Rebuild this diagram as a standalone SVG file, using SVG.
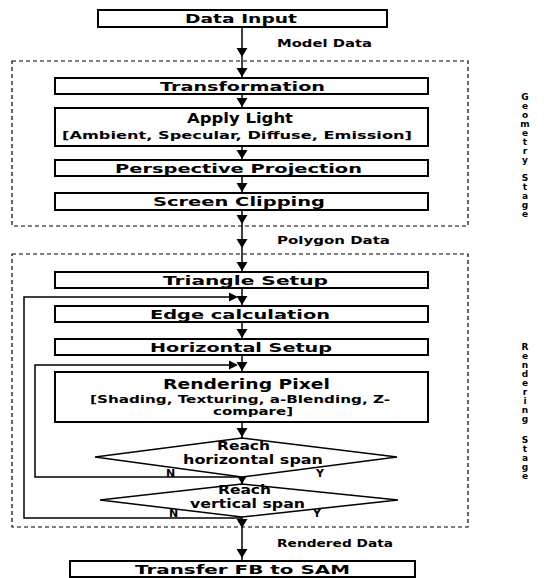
<svg xmlns="http://www.w3.org/2000/svg" width="550" height="578" viewBox="0 0 550 578">
<style>
.box{fill:#fff;stroke:#000;stroke-width:2}
.stage{fill:none;stroke:#000;stroke-width:1.2;stroke-dasharray:4 3}
.ln{fill:none;stroke:#000;stroke-width:1.5}
.t{font-family:"DejaVu Sans","Liberation Sans",Arial,sans-serif;font-weight:bold;fill:#000}
.m{font-size:13px}
.d{font-size:12px}
.s{font-size:11px}
.l{font-size:10.5px}
.v{font-family:"DejaVu Sans","Liberation Sans",Arial,sans-serif;font-weight:bold;font-size:9px;fill:#000;text-anchor:middle}
</style>
<defs>
<path id="ah" d="M-5.5,-9 L5.5,-9 L0,0 Z" fill="#000"/>
<path id="ahr" d="M-9,-4.5 L-9,4.5 L0,0 Z" fill="#000"/>
</defs>

<g id="geometry-stage">
<rect class="stage" x="12" y="61" width="456" height="165"/>
<text class="v"><tspan x="525" y="100">G</tspan><tspan x="525" y="109">e</tspan><tspan x="525" y="118">o</tspan><tspan x="525" y="127">m</tspan><tspan x="525" y="136">e</tspan><tspan x="525" y="145">t</tspan><tspan x="525" y="154">r</tspan><tspan x="525" y="163">y</tspan><tspan x="525" y="181">S</tspan><tspan x="525" y="190">t</tspan><tspan x="525" y="199">a</tspan><tspan x="525" y="208">g</tspan><tspan x="525" y="217">e</tspan></text>
</g>
<g id="rendering-stage">
<rect class="stage" x="12" y="254" width="456" height="273"/>
<text class="v"><tspan x="525" y="350">R</tspan><tspan x="525" y="359">e</tspan><tspan x="525" y="368">n</tspan><tspan x="525" y="377">d</tspan><tspan x="525" y="386">e</tspan><tspan x="525" y="395">r</tspan><tspan x="525" y="404">i</tspan><tspan x="525" y="413">n</tspan><tspan x="525" y="422">g</tspan><tspan x="525" y="443">S</tspan><tspan x="525" y="452">t</tspan><tspan x="525" y="461">a</tspan><tspan x="525" y="470">g</tspan><tspan x="525" y="479">e</tspan></text>
</g>

<g id="connectors">
<line class="ln" x1="242" y1="27" x2="242" y2="78"/>
<use href="#ah" transform="translate(242,57)"/>
<use href="#ah" transform="translate(242,77)"/>
<line class="ln" x1="242" y1="94" x2="242" y2="108"/>
<use href="#ah" transform="translate(242,107)"/>
<line class="ln" x1="242" y1="146" x2="242" y2="160"/>
<use href="#ah" transform="translate(242,159)"/>
<line class="ln" x1="242" y1="176" x2="242" y2="193"/>
<use href="#ah" transform="translate(242,192)"/>
<line class="ln" x1="242" y1="210" x2="242" y2="272"/>
<use href="#ah" transform="translate(242,224)"/>
<use href="#ah" transform="translate(242,248)"/>
<use href="#ah" transform="translate(242,271)"/>
<line class="ln" x1="242" y1="288" x2="242" y2="306"/>
<use href="#ah" transform="translate(242,305)"/>
<line class="ln" x1="242" y1="322" x2="242" y2="339"/>
<use href="#ah" transform="translate(242,338)"/>
<line class="ln" x1="242" y1="355" x2="242" y2="372"/>
<use href="#ah" transform="translate(242,371)"/>
<line class="ln" x1="242" y1="422" x2="242" y2="438"/>
<use href="#ah" transform="translate(242,437)"/>
<line class="ln" x1="242" y1="477" x2="242" y2="484"/>
<use href="#ah" transform="translate(242,484)"/>
<line class="ln" x1="242" y1="517" x2="242" y2="561"/>
<use href="#ah" transform="translate(242,528)"/>
<use href="#ah" transform="translate(242,558)"/>
<polyline class="ln" points="242,477 35,477 35,365 236,365"/>
<use href="#ahr" transform="translate(238,365)"/>
<polyline class="ln" points="242,518 24,518 24,297 236,297"/>
<use href="#ahr" transform="translate(238,297)"/>
<text class="t l" x="277" y="47" textLength="95" lengthAdjust="spacingAndGlyphs">Model Data</text>
<text class="t l" x="277" y="244" textLength="113" lengthAdjust="spacingAndGlyphs">Polygon Data</text>
<text class="t l" x="277" y="547" textLength="116" lengthAdjust="spacingAndGlyphs">Rendered Data</text>
<text class="t s" x="166" y="477">N</text>
<text class="t s" x="316" y="477">Y</text>
<text class="t s" x="169" y="517">N</text>
<text class="t s" x="313" y="517">Y</text>
</g>

<g id="data-input">
<rect class="box" x="98" y="10" width="289" height="17"/>
<text class="t m" x="185" y="23" textLength="112" lengthAdjust="spacingAndGlyphs">Data Input</text>
</g>
<g id="transformation">
<rect class="box" x="55" y="78" width="373" height="16"/>
<text class="t m" x="160" y="91" textLength="165" lengthAdjust="spacingAndGlyphs">Transformation</text>
</g>
<g id="apply-light">
<rect class="box" x="55" y="108" width="373" height="38"/>
<text class="t" style="font-size:14px" x="187" y="123" textLength="106" lengthAdjust="spacingAndGlyphs">Apply Light</text>
<text class="t s" x="62" y="139" textLength="350" lengthAdjust="spacingAndGlyphs">[Ambient, Specular, Diffuse, Emission]</text>
</g>
<g id="perspective-projection">
<rect class="box" x="55" y="160" width="373" height="16"/>
<text class="t m" x="115" y="173" textLength="247" lengthAdjust="spacingAndGlyphs">Perspective Projection</text>
</g>
<g id="screen-clipping">
<rect class="box" x="55" y="193" width="373" height="17"/>
<text class="t m" x="153" y="206" textLength="172" lengthAdjust="spacingAndGlyphs">Screen Clipping</text>
</g>
<g id="triangle-setup">
<rect class="box" x="55" y="272" width="373" height="16"/>
<text class="t m" x="163" y="285" textLength="165" lengthAdjust="spacingAndGlyphs">Triangle Setup</text>
</g>
<g id="edge-calculation">
<rect class="box" x="55" y="306" width="373" height="16"/>
<text class="t m" x="150" y="319" textLength="180" lengthAdjust="spacingAndGlyphs">Edge calculation</text>
</g>
<g id="horizontal-setup">
<rect class="box" x="55" y="339" width="373" height="16"/>
<text class="t m" x="150" y="352" textLength="182" lengthAdjust="spacingAndGlyphs">Horizontal Setup</text>
</g>
<g id="rendering-pixel">
<rect class="box" x="55" y="372" width="373" height="50"/>
<text class="t" style="font-size:14px" x="163" y="389" textLength="167" lengthAdjust="spacingAndGlyphs">Rendering Pixel</text>
<text class="t s" x="90" y="403" textLength="300" lengthAdjust="spacingAndGlyphs">[Shading, Texturing, a-Blending, Z-</text>
<text class="t s" x="213" y="415" textLength="80" lengthAdjust="spacingAndGlyphs">compare]</text>
</g>
<g id="reach-horizontal-span">
<polygon class="box" style="stroke-width:1.5" points="242,438 397,457 242,477 95,457"/>
<text class="t d" x="217" y="450" textLength="53" lengthAdjust="spacingAndGlyphs">Reach</text>
<text class="t d" x="183" y="464" textLength="140" lengthAdjust="spacingAndGlyphs">horizontal span</text>
</g>
<g id="reach-vertical-span">
<polygon class="box" style="stroke-width:1.5" points="242,484 398,500 242,517 100,500"/>
<text class="t d" x="218" y="494" textLength="53" lengthAdjust="spacingAndGlyphs">Reach</text>
<text class="t d" x="190" y="508" textLength="115" lengthAdjust="spacingAndGlyphs">vertical span</text>
</g>
<g id="transfer-fb-to-sam">
<rect class="box" x="70" y="561" width="345" height="16"/>
<text class="t m" x="135" y="574" textLength="215" lengthAdjust="spacingAndGlyphs">Transfer FB to SAM</text>
</g>
</svg>
